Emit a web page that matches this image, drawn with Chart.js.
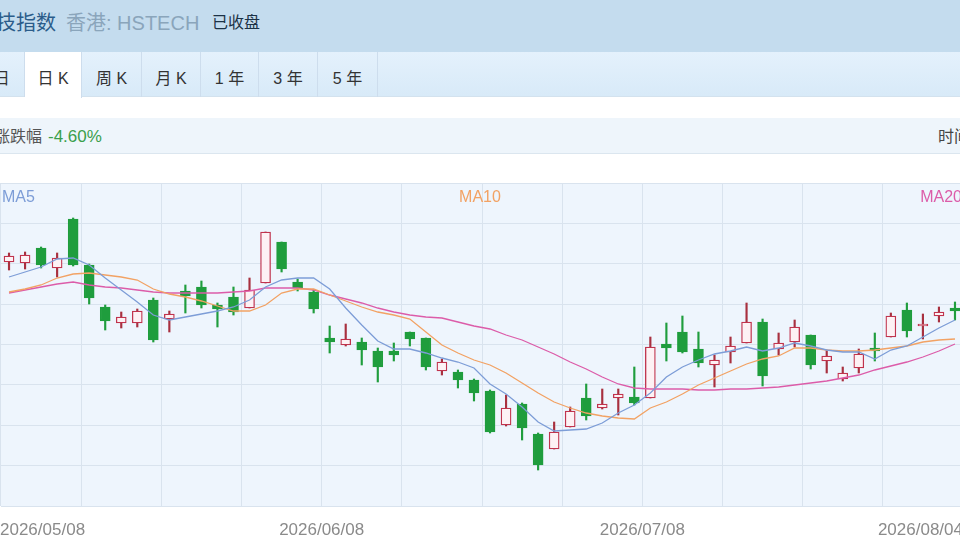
<!DOCTYPE html>
<html>
<head>
<meta charset="utf-8">
<script src="https://cdn.jsdelivr.net/npm/chart.js@4.4.1/dist/chart.umd.min.js"></script>
<style>
  html, body { margin: 0; padding: 0; }
  body {
    width: 960px; height: 540px; overflow: hidden; position: relative;
    background: #fff;
    font-family: "Liberation Sans", "Noto Sans CJK SC", sans-serif;
  }
  #hdr { position: absolute; left: 0; top: 0; width: 960px; height: 52px; background: #c4dcee; }
  #hdr span { position: absolute; top: 0; line-height: 46px; white-space: nowrap; }
  .name  { left: -64px; font-size: 20px; color: #2b5c8a; }
  .code  { left: 66px;  font-size: 20px; color: #8aa5bb; }
  .state { left: 212px; font-size: 16px; color: #1c3246; }

  #tabs {
    position: absolute; left: 0; top: 52px; width: 960px; height: 45px;
    background: linear-gradient(#e4f1fc, #d8eaf8);
    border-bottom: 1px solid #d3e2ee; box-sizing: border-box;
  }
  .tab {
    position: absolute; top: 0; height: 45px; line-height: 54px; overflow: hidden;
    text-align: center; font-size: 16px; color: #333;
    border-right: 1px solid #cddded; box-sizing: border-box;
  }
  .tab.on { background: #fff; height: 46px; }

  #info {
    position: absolute; left: 0; top: 118px; width: 960px; height: 36px;
    background: #eef5fb; border-bottom: 1px solid #dbe6ef; box-sizing: border-box;
  }
  #info span { position: absolute; top: 0; line-height: 38px; white-space: nowrap; }
  .lbl { left: -6px; font-size: 16px; color: #555; }
  .chg { left: 48px; font-size: 17px; color: #3a9f4b; }
  .time { left: 938px; font-size: 16px; color: #444; }

  #box { position: absolute; left: 0; top: 183px; width: 964px; height: 357px; }
</style>
</head>
<body>

<div id="hdr">
  <span class="name">恒生科技指数</span>
  <span class="code">香港: HSTECH</span>
  <span class="state">已收盘</span>
</div>

<div id="tabs">
  <div class="tab" style="left:-34px;width:59px">5 日</div>
  <div class="tab on" style="left:25px;width:57px">日 K</div>
  <div class="tab" style="left:82px;width:60px">周 K</div>
  <div class="tab" style="left:142px;width:59px">月 K</div>
  <div class="tab" style="left:201px;width:58px">1 年</div>
  <div class="tab" style="left:259px;width:59px">3 年</div>
  <div class="tab" style="left:318px;width:60px">5 年</div>
</div>

<div id="info">
  <span class="lbl">涨跌幅</span>
  <span class="chg">-4.60%</span>
  <span class="time">时间</span>
</div>

<div id="box"><canvas id="chart"></canvas></div>

<script>
// =====================================================
// DATA (daily candles)
// =====================================================

const dates = [
  '2026/05/08', '2026/05/11', '2026/05/12', '2026/05/13', '2026/05/14', '2026/05/15',
  '2026/05/18', '2026/05/19', '2026/05/20', '2026/05/21', '2026/05/22',
  '2026/05/26', '2026/05/27', '2026/05/28', '2026/05/29',
  '2026/06/01', '2026/06/02', '2026/06/03', '2026/06/04', '2026/06/05',
  '2026/06/08', '2026/06/09', '2026/06/10', '2026/06/11', '2026/06/12',
  '2026/06/15', '2026/06/16', '2026/06/17', '2026/06/18',
  '2026/06/22', '2026/06/23', '2026/06/24', '2026/06/25', '2026/06/26',
  '2026/06/29', '2026/06/30', '2026/07/02', '2026/07/03',
  '2026/07/06', '2026/07/07', '2026/07/08', '2026/07/09', '2026/07/10',
  '2026/07/13', '2026/07/14', '2026/07/15', '2026/07/16', '2026/07/17',
  '2026/07/20', '2026/07/21', '2026/07/22', '2026/07/23', '2026/07/24',
  '2026/07/27', '2026/07/28', '2026/07/29', '2026/07/30', '2026/07/31',
  '2026/08/03', '2026/08/04'
];

const open = [
  5244, 5243, 5258, 5238, 5287, 5241, 5199, 5183, 5183, 5206,
  5187, 5215, 5219, 5201, 5209, 5198, 5223, 5264, 5224, 5214,
  5168, 5161, 5164, 5155, 5155, 5174, 5168, 5135, 5134, 5126,
  5115, 5081, 5102, 5072, 5057, 5079, 5108, 5098, 5108, 5109,
  5108, 5162, 5174, 5157, 5141, 5154, 5163, 5184, 5157, 5164,
  5171, 5145, 5127, 5138, 5158, 5169, 5196, 5180, 5190, 5198
];
const high = [
  5253, 5254, 5259, 5253, 5288, 5242, 5201, 5194, 5197, 5208,
  5195, 5221, 5225, 5203, 5219, 5228, 5274, 5264, 5227, 5216,
  5180, 5182, 5168, 5158, 5163, 5174, 5168, 5147, 5136, 5127,
  5116, 5111, 5103, 5073, 5084, 5099, 5122, 5117, 5117, 5139,
  5169, 5183, 5190, 5174, 5151, 5169, 5203, 5187, 5173, 5186,
  5171, 5156, 5139, 5157, 5173, 5193, 5203, 5192, 5199, 5204
];
const low = [
  5236, 5237, 5238, 5229, 5240, 5202, 5176, 5178, 5179, 5164,
  5174, 5193, 5198, 5179, 5191, 5198, 5223, 5234, 5215, 5193,
  5153, 5160, 5141, 5124, 5145, 5160, 5136, 5131, 5118, 5105,
  5073, 5080, 5066, 5036, 5057, 5079, 5086, 5097, 5091, 5101,
  5108, 5145, 5153, 5139, 5119, 5143, 5163, 5120, 5151, 5159,
  5137, 5133, 5125, 5133, 5145, 5169, 5169, 5167, 5184, 5186
];
const close = [
  5250, 5251, 5241, 5248, 5241, 5208, 5185, 5189, 5195, 5166,
  5192, 5210, 5201, 5197, 5194, 5216, 5274, 5237, 5218, 5197,
  5164, 5167, 5156, 5139, 5151, 5167, 5139, 5144, 5126, 5113,
  5074, 5098, 5078, 5041, 5074, 5095, 5090, 5102, 5112, 5103,
  5159, 5158, 5154, 5143, 5146, 5160, 5184, 5130, 5163, 5179,
  5141, 5150, 5133, 5152, 5155, 5190, 5175, 5182, 5194, 5195
];

// moving averages as drawn
const ma5 = [
  5229, 5234, 5239, 5247, 5248, 5241, 5228, 5216, 5204, 5191,
  5186, 5189, 5192, 5195, 5199, 5206, 5219, 5226, 5228, 5228,
  5217, 5198, 5181, 5165, 5157, 5157, 5153, 5148, 5144, 5138,
  5122, 5112, 5099, 5084, 5075, 5076, 5077, 5083, 5093, 5101,
  5113, 5129, 5139, 5146, 5152, 5155, 5159, 5155, 5158, 5163,
  5160, 5156, 5154, 5154, 5147, 5156, 5160, 5169, 5178, 5186
];
const ma10 = [
  5214, 5217, 5221, 5228, 5232, 5233, 5231, 5229, 5226, 5217,
  5212, 5209, 5205, 5200, 5195, 5195, 5201, 5213, 5217, 5217,
  5211, 5205, 5199, 5194, 5191, 5187, 5174, 5161, 5153, 5146,
  5141, 5133, 5123, 5113, 5104, 5098, 5093, 5090, 5088, 5087,
  5098, 5104, 5112, 5121, 5128, 5135, 5142, 5147, 5150, 5158,
  5158, 5156, 5155, 5155, 5156, 5158, 5160, 5164, 5166, 5167
];
const ma20 = [
  5213, 5216, 5219, 5222, 5224, 5221, 5219, 5218, 5216, 5214,
  5213, 5213, 5213, 5213, 5214, 5215, 5218, 5218, 5218, 5216,
  5211, 5207, 5203, 5198, 5194, 5191, 5189, 5188, 5184, 5180,
  5177, 5171, 5166, 5159, 5152, 5144, 5137, 5129, 5122, 5118,
  5117, 5117, 5117, 5116, 5116, 5117, 5117, 5118, 5119, 5121,
  5123, 5125, 5128, 5131, 5136, 5140, 5144, 5149, 5155, 5162
];

// which dates get a label under the chart
const xLabelIdx = [0, 20, 40, 59];

// price range of the plot and the grid step
const yMin = 5000;
const yMax = 5323;
const yStep = 40.375;

// =====================================================
// COLOURS
// =====================================================

const UP = '#c0334d';
const UP_FILL = '#fdf1f4';
const DOWN = '#1f9d3d';
const GRID = '#d9e3ee';
const MA_COLORS = ['#7d9dd7', '#f2a264', '#dc5ca9'];

const isUp = close.map((c, i) => c >= open[i]);

// =====================================================
// PLUGINS: plot background + in-chart texts
// =====================================================

const plotBg = {
  id: 'plotBg',
  beforeDraw(chart) {
    const { ctx, chartArea: a } = chart;
    ctx.save();
    ctx.fillStyle = '#eef5fd';
    ctx.fillRect(0, a.top, a.right + 1, a.bottom - a.top);
    ctx.restore();
  }
};

const texts = {
  id: 'texts',
  afterDraw(chart) {
    const { ctx, chartArea: a } = chart;
    const xs = chart.scales.x;
    const step = (a.right - a.left) / dates.length;
    ctx.save();
    ctx.textBaseline = 'middle';

    // MA legend across the top
    ctx.font = '16px "Liberation Sans", sans-serif';
    const names = ['MA5', 'MA10', 'MA20'];
    const aligns = ['left', 'center', 'right'];
    const px = [a.left + 1, 480, a.right - 1];
    names.forEach((n, k) => {
      ctx.fillStyle = MA_COLORS[k];
      ctx.textAlign = aligns[k];
      ctx.fillText(n, px[k], a.top + 15);
    });

    // date labels under the plot
    ctx.font = '17px "Liberation Sans", sans-serif';
    ctx.fillStyle = '#8a8a8a';
    xLabelIdx.forEach((idx, k) => {
      let x = xs.getPixelForValue(idx) - step / 2;
      ctx.textAlign = 'center';
      if (k === 0) { ctx.textAlign = 'left'; x = 0; }
      if (k === xLabelIdx.length - 1) { ctx.textAlign = 'right'; x = xs.getPixelForValue(idx) + step / 2; }
      ctx.fillText(dates[idx], x, a.bottom + 24);
    });
    ctx.restore();
  }
};

// =====================================================
// CHART
// =====================================================

const maLine = (label, data, color) => ({
  type: 'line',
  label: label,
  data: data,
  borderColor: color,
  borderWidth: 1.3,
  pointRadius: 0,
  tension: 0,
  fill: false,
  order: 0
});

new Chart(document.getElementById('chart'), {
  data: {
    labels: dates,
    datasets: [
      maLine('MA5', ma5, MA_COLORS[0]),
      maLine('MA10', ma10, MA_COLORS[1]),
      maLine('MA20', ma20, MA_COLORS[2]),
      {
        // candle bodies, open -> close
        type: 'bar',
        label: 'body',
        data: open.map((o, i) => [o, close[i]]),
        backgroundColor: isUp.map(u => u ? UP_FILL : DOWN),
        borderColor: isUp.map(u => u ? UP : DOWN),
        borderWidth: 1.3,
        borderSkipped: false,
        barThickness: 10,
        grouped: false,
        order: 1
      },
      {
        // wicks, low -> high
        type: 'bar',
        label: 'wick',
        data: low.map((l, i) => [l, high[i]]),
        backgroundColor: isUp.map(u => u ? '#a8303f' : DOWN),
        barThickness: 1.5,
        grouped: false,
        order: 2
      }
    ]
  },
  options: {
    responsive: true,
    maintainAspectRatio: false,
    animation: false,
    events: [],
    layout: { padding: { left: 1, right: 1, top: 0, bottom: 34 } },
    plugins: { legend: { display: false }, tooltip: { enabled: false } },
    scales: {
      x: {
        type: 'category',
        offset: true,
        ticks: { display: false, autoSkip: false },
        border: { display: false },
        grid: {
          offset: true,
          drawTicks: false,
          color: c => (c.index % 5 === 0 ? GRID : 'rgba(0,0,0,0)')
        }
      },
      y: {
        min: yMin,
        max: yMax,
        ticks: { display: false, stepSize: yStep },
        border: { display: false },
        grid: { drawTicks: false, color: GRID }
      }
    }
  },
  plugins: [plotBg, texts]
});
</script>
</body>
</html>
